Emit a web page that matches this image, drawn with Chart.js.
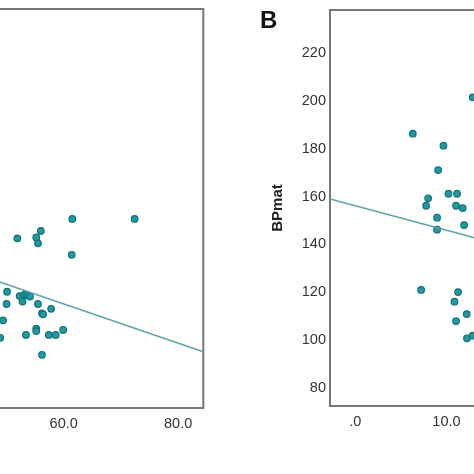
<!DOCTYPE html>
<html>
<head>
<meta charset="utf-8">
<script src="https://cdn.jsdelivr.net/npm/chart.js@4"></script>
<style>
  html, body { margin: 0; padding: 0; background: #fff; }
  #figure { position: relative; width: 474px; height: 474px; overflow: hidden; background: #fff; }
  #chartA { position: absolute; left: -240px; top: 0; }
  #chartB { position: absolute; left: 236px; top: 0; }
  #panelB { position: absolute; left: 260px; top: 8px; font: bold 24px 'Liberation Sans', Arial, sans-serif; line-height: 24px; color: #111; }
</style>
</head>
<body>
<div id="figure">
  <canvas id="chartA" width="450" height="474"></canvas>
  <canvas id="chartB" width="414" height="474"></canvas>
  <div id="panelB">B</div>
</div>
<script>
// panel A (only the right part is visible)
const xA = [61.5, 72.4, 56.0, 51.9, 55.2, 55.5, 61.4, 50.1, 50.0, 52.3, 53.1, 53.6, 54.1, 52.8,
            55.5, 57.8, 56.2, 56.4, 49.4, 55.2, 55.2, 59.9, 53.4, 57.4, 58.6, 48.9, 56.2];
const yA = [150.9, 150.9, 145.9, 142.8, 143.2, 140.7, 135.9, 120.5, 115.4, 118.7, 119.2, 119.2, 118.5, 116.4,
            115.4, 113.4, 111.5, 111.1, 108.6, 105.1, 104.1, 104.6, 102.5, 102.5, 102.5, 101.3, 94.2];
const fitAX = [40, 84.4];
const fitAY = [131.8, 95.5];
const xTicksA = [20, 40, 60, 80];

// panel B (only the left part is visible)
const xB = [12.88, 6.31, 9.67, 9.08, 7.99, 7.77, 10.22, 11.16, 11.05, 11.78, 8.97, 11.93, 8.97,
            7.22, 11.27, 10.88, 12.22, 11.05, 12.25, 12.88];
const yB = [201.5, 186.3, 181.3, 171.1, 159.3, 156.2, 161.2, 161.2, 156.2, 155.2, 151.2, 148.1, 146.2,
            121.0, 120.1, 116.1, 110.9, 108.0, 100.8, 101.9];
const fitBX = [-2.77, 14];
const fitBY = [159.0, 141.9];
const xTicksB = [0, 10, 20, 30];
const yTicks = [80, 100, 120, 140, 160, 180, 200, 220];

const FONT = "'Liberation Sans', Arial, sans-serif";
const TEXT = '#333';

// SPSS style labels: 0.0 -> .0
function spssLabel(v) {
    return v.toFixed(1).replace(/^0/, '');
}

function toPoints(xs, ys) {
    return xs.map((x, i) => ({ x: x, y: ys[i] }));
}

const framePlugin = {
    id: 'frame',
    beforeDatasetsDraw(chart) {
        const { ctx, chartArea: a } = chart;
        ctx.save();
        ctx.strokeStyle = '#777';
        ctx.lineWidth = 2;
        ctx.strokeRect(a.left, a.top, a.right - a.left, a.bottom - a.top);
        ctx.restore();
    }
};

function datasets(xs, ys, fx, fy) {
    return [
        {
            type: 'line',
            data: toPoints(fx, fy),
            borderColor: '#5ea3a5',
            borderWidth: 1.5,
            pointRadius: 0,
            fill: false
        },
        {
            type: 'scatter',
            data: toPoints(xs, ys),
            backgroundColor: '#23989f',
            borderColor: '#11747c',
            borderWidth: 1.2,
            pointRadius: 3.3
        }
    ];
}

function xScale(min, max, ticks, height) {
    return {
        type: 'linear',
        min: min,
        max: max,
        grid: { display: false, drawTicks: false },
        border: { display: false },
        afterBuildTicks: scale => { scale.ticks = ticks.map(v => ({ value: v })); },
        afterFit: scale => { scale.height = height; },
        ticks: {
            padding: 7,
            color: TEXT,
            font: { family: FONT, size: 14.5 },
            callback: v => spssLabel(v)
        }
    };
}

new Chart(document.getElementById('chartA'), {
    data: { datasets: datasets(xA, yA, fitAX, fitAY) },
    options: {
        responsive: false,
        animation: false,
        layout: { padding: { left: 74.9, right: 6.7, top: 9, bottom: 0 } },
        plugins: { legend: { display: false }, tooltip: { enabled: false } },
        scales: {
            x: xScale(20, 84.4, xTicksA, 66),
            y: { type: 'linear', min: 72, max: 238.5, display: false }
        }
    },
    plugins: [framePlugin]
});

new Chart(document.getElementById('chartB'), {
    data: { datasets: datasets(xB, yB, fitBX, fitBY) },
    options: {
        responsive: false,
        animation: false,
        layout: { padding: { left: 0, right: 20, top: 10, bottom: 0 } },
        plugins: { legend: { display: false }, tooltip: { enabled: false } },
        scales: {
            x: xScale(-2.77, 30, xTicksB, 68),
            y: {
                type: 'linear',
                min: 72.5,
                max: 238,
                grid: { display: false, drawTicks: false },
                border: { display: false },
                afterBuildTicks: scale => { scale.ticks = yTicks.map(v => ({ value: v })); },
                afterFit: scale => {
                    scale.width = 94;
                    scale.paddingTop = 0;
                    scale.paddingBottom = 0;
                },
                ticks: {
                    padding: 4,
                    color: TEXT,
                    font: { family: FONT, size: 14.5 }
                },
                title: {
                    display: true,
                    text: 'BPmat',
                    color: '#222',
                    font: { family: FONT, size: 15, weight: 'bold' },
                    padding: { top: 33, bottom: 0 }
                }
            }
        }
    },
    plugins: [framePlugin]
});
</script>
</body>
</html>
